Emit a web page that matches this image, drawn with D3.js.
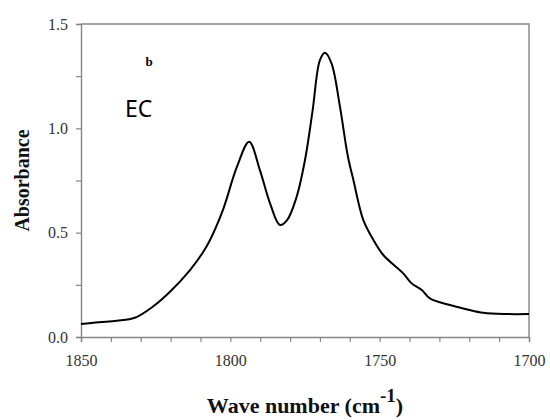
<!DOCTYPE html>
<html>
<head>
<meta charset="utf-8">
<script src="https://cdn.jsdelivr.net/npm/d3@7"></script>
<style>
  body { margin: 0; background: #fff; }
  .tick text { font-family: "Liberation Serif", "Times New Roman", serif; }
</style>
</head>
<body>
<div id="chart"></div>
<script>
'use strict';

// wave number (cm-1) and absorbance
var waveNumbers = [1850, 1844, 1838, 1832, 1826, 1820.2, 1813.5, 1809.2, 1806.8, 1802.5,
  1797.8, 1793.7, 1790.1, 1786.7, 1783.4, 1781, 1777.8, 1775,
  1772.5, 1770, 1768.3, 1766.1, 1763.3, 1760.7, 1758.8, 1755.5, 1752.1, 1748.8,
  1742.1, 1739.3, 1735.9, 1733.2, 1726.5, 1720.9, 1715.3, 1707.5, 1700];
var absorbance = [0.062, 0.071, 0.078, 0.092, 0.145, 0.217, 0.321, 0.405, 0.465, 0.608,
  0.815, 0.936, 0.80, 0.64, 0.537, 0.56, 0.672, 0.848,
  1.08, 1.327, 1.362, 1.31, 1.104, 0.87, 0.752, 0.561, 0.465, 0.393,
  0.305, 0.257, 0.225, 0.185, 0.153, 0.133, 0.116, 0.110, 0.110];

var xMajorTicks = [1850, 1800, 1750, 1700];
var yMajorTicks = [0, 0.5, 1.0, 1.5];

var width = 550;
var height = 420;
var margin = {top: 24, right: 21, bottom: 83, left: 81};

var svg = d3.select('#chart')
            .append('svg')
            .attr('width', width)
            .attr('height', height);

var x = d3.scaleLinear()
          .domain([1850, 1700])
          .range([margin.left, width - margin.right]);

var y = d3.scaleLinear()
          .domain([0, 1.5])
          .range([height - margin.bottom, margin.top]);

var axisColour = '#858585';

// frame: top and right edges
svg.append('path')
   .attr('d', 'M' + x(1850) + ',' + y(1.5) + 'H' + x(1700) + 'V' + y(0))
   .attr('fill', 'none')
   .attr('stroke', axisColour)
   .attr('stroke-width', 1.4);

var xAxis = d3.axisBottom(x)
              .tickValues(d3.range(1850, 1699, -10))
              .tickSize(5)
              .tickFormat(function(d) { return xMajorTicks.indexOf(d) >= 0 ? d : ''; });

var yAxis = d3.axisLeft(y)
              .tickValues(d3.range(0, 1.51, 0.25))
              .tickSize(5)
              .tickFormat(function(d) {
                return yMajorTicks.some(function(t) { return Math.abs(t - d) < 1e-6; }) ? d3.format('.1f')(d) : '';
              });

var gx = svg.append('g')
            .attr('transform', 'translate(0,' + y(0) + ')')
            .call(xAxis);

var gy = svg.append('g')
            .attr('transform', 'translate(' + x(1850) + ',0)')
            .call(yAxis);

[gx, gy].forEach(function(g) {
  g.attr('font-family', '"Liberation Serif", serif').attr('font-size', 16);
  g.select('.domain').attr('stroke', axisColour).attr('stroke-width', 1.4);
  g.selectAll('.tick line').attr('stroke', axisColour).attr('stroke-width', 1.2);
  g.selectAll('.tick text').attr('fill', '#333');
});
gx.selectAll('.tick text').attr('dy', '1.05em').attr('y', 12);
gy.selectAll('.tick text').attr('x', -13);

// spectrum
var points = waveNumbers.map(function(w, i) { return {w: w, a: absorbance[i]}; });

var line = d3.line()
             .x(function(d) { return x(d.w); })
             .y(function(d) { return y(d.a); })
             .curve(d3.curveCatmullRom.alpha(0.5));

svg.append('path')
   .datum(points)
   .attr('d', line)
   .attr('fill', 'none')
   .attr('stroke', '#000')
   .attr('stroke-width', 2);

// axis titles
var title = svg.append('text')
               .attr('x', 305)
               .attr('y', 413)
               .attr('text-anchor', 'middle')
               .style('font-family', '"Liberation Serif", serif')
               .style('font-weight', 'bold')
               .style('font-size', '22px')
               .attr('fill', '#111');
title.append('tspan').text('Wave number (cm');
title.append('tspan').attr('dy', -11).style('font-size', '19px').text('-1');
title.append('tspan').attr('dy', 11).text(')');

svg.append('text')
   .attr('transform', 'translate(29,' + ((y(0) + y(1.5)) / 2) + ') rotate(-90)')
   .attr('text-anchor', 'middle')
   .style('font-family', '"Liberation Serif", serif')
   .style('font-weight', 'bold')
   .style('font-size', '20px')
   .attr('fill', '#111')
   .text('Absorbance');

// panel labels
svg.append('text')
   .attr('x', 149)
   .attr('y', 66)
   .attr('text-anchor', 'middle')
   .style('font-family', '"Liberation Serif", serif')
   .style('font-weight', 'bold')
   .style('font-size', '13px')
   .text('b');

svg.append('text')
   .attr('x', 125)
   .attr('y', 117)
   .style('font-family', '"Noto Sans", sans-serif')
   .style('font-size', '23px')
   .text('EC');
</script>
</body>
</html>
